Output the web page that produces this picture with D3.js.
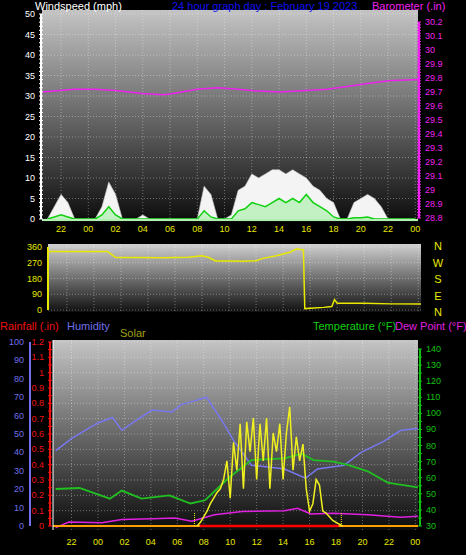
<!DOCTYPE html>
<html><head><meta charset="utf-8">
<script src="https://cdn.jsdelivr.net/npm/d3@7"></script>
<style>
body{margin:0;background:#000}
svg{display:block;font-family:"Liberation Sans",Arial,sans-serif}
</style></head>
<body><svg id="chart" width="466" height="555"></svg>
<script>
// hours relative to 00:00 of the graph day (-2 = 22:00 the day before)
const timeLabels = ['22','00','02','04','06','08','10','12','14','16','18','20','22','00']
const timeTicks = d3.range(-2, 25, 2)

// wind (mph), every half hour from -3
const gust = [0,3,6,4,0,0,0,0,3,9,6,0,0,0,1,0,0,0,0,0,0,0,0,8,6,0,0,1,7,8,11,10,11,12,12,11,12,11,10,8,7,5,4,0,0,4,5,6,5,3,0,0,0,0,0]
const avgWind = [0,0.5,1,0.5,0,0,0,0,1,3,1,0,0,0,0,0,0,0,0,0,0,0,0,2,0.5,0,0,0,2,2.5,4,3.5,3,4,5,4,5,4,6,4,3,2,0.5,0,0,0.3,0.3,0.5,0,0,0,0,0,0,0]

// barometer (inHg)
const baroTimes = [-3.4,-1,0.5,2,4,5.5,6,8,9.5,11,12,14,16,17.5,19,20.5,22,24.2]
const baro = [29.70,29.72,29.72,29.71,29.69,29.68,29.685,29.72,29.73,29.72,29.71,29.70,29.71,29.72,29.74,29.76,29.78,29.79]

// wind direction (deg)
const dirTimes = [-3.4,-1,1,1.6,3,5,7,8,8.5,9,10,11,12,12.5,13.5,14.5,15,15.4,15.5,15.6,17,17.6,17.8,18,20,22,24.2]
const dir = [335,335,335,300,300,298,302,310,300,280,280,278,282,295,310,330,350,345,345,8,15,20,60,38,38,35,35]

// humidity (%)
const humTimes = [-3.2,-1.9,0,1.1,1.8,2.8,4.1,5.6,6.3,7.3,8.2,9.4,10.3,11.6,12.9,14.1,15.7,16.6,18.6,19.9,21.6,22.9,24.2]
const hum = [41,48,56,59,52,57,63,62,66,68,70,57,46,33,32,31,26,31,33,40,46,52,53]

// temperature (°F)
const tempTimes = [-3.2,-1.4,0.9,1.8,3.3,5.4,7,8.1,9.9,11.6,14.1,15.4,16.3,17.8,18.9,20.4,21.9,24.2]
const temp = [53,53.6,47,52,47,49,44,46,60,71,72,75,71,70,68,64,57,54]

// dew point (°F)
const dewTimes = [-3.2,-2.2,0.3,1.8,4.1,5.8,7.1,8.8,10.9,14.1,15.1,16.1,17.8,20.4,22.9,24.2]
const dew = [29,32.5,32,34,34.5,35,33,37,39,39.5,41,37.5,38,37,35.5,36]

// solar (% of panel), every quarter hour from 7.5
const solar = [0,2,5,8,12,15,18,20,25,35,15,45,30,55,20,56,40,58,25,55,35,58,20,50,40,55,25,50,64,30,48,35,44,20,8,12,25,22,8,7,5,3,2,1,0]
const sunrise = 7.3, sunset = 18.4

const svg = d3.select('#chart')
const defs = svg.append('defs')
function grad(id, top, bottom) {
	const g = defs.append('linearGradient').attr('id', id).attr('x1', 0).attr('x2', 0).attr('y1', 0).attr('y2', 1)
	g.append('stop').attr('offset', 0).attr('stop-color', top)
	g.append('stop').attr('offset', 1).attr('stop-color', bottom)
}
grad('bg1', '#c4c4c4', '#0c0c0c')
grad('bg2', '#d0d0d0', '#101010')

function panel(x0, x1, y0, y1, bg, yScale, yTicks) {
	svg.append('rect').attr('x', x0).attr('y', y0).attr('width', x1 - x0).attr('height', y1 - y0).attr('fill', `url(#${bg})`)
	const x = d3.scaleLinear().domain([-3.4, 24.2]).range([x0, x1])
	const g = svg.append('g').attr('stroke', '#ffffff').attr('stroke-opacity', 0.35).attr('stroke-dasharray', '1,2')
	g.selectAll('.v').data(timeTicks).join('line').attr('x1', x).attr('x2', x).attr('y1', y0).attr('y2', y1)
	g.selectAll('.h').data(yTicks).join('line').attr('x1', x0).attr('x2', x1).attr('y1', yScale).attr('y2', yScale)
	return x
}
function timeAxis(x, y) {
	svg.append('g').selectAll('text').data(timeTicks).join('text')
		.attr('x', x).attr('y', y).attr('text-anchor', 'middle').attr('fill', '#e8e800').attr('font-size', 9)
		.text((d, i) => timeLabels[i])
}
function vAxis(xPos, scale, ticks, color, anchor, fmt, minor) {
	const g = svg.append('g')
	g.append('line').attr('x1', xPos).attr('x2', xPos).attr('y1', scale.range()[1]).attr('y2', scale.range()[0]).attr('stroke', color).attr('stroke-width', 2)
	if (minor) g.selectAll('.m').data(minor).join('line').attr('x1', xPos - 2).attr('x2', xPos + 2).attr('y1', scale).attr('y2', scale).attr('stroke', color)
	const dx = anchor === 'end' ? -6 : 6
	g.selectAll('text').data(ticks).join('text')
		.attr('x', xPos + dx).attr('y', d => scale(d) + 3).attr('text-anchor', anchor)
		.attr('fill', color).attr('font-size', 9).text(fmt)
}
function text(x, y, s, color, size) {
	svg.append('text').attr('x', x).attr('y', y).attr('fill', color).attr('font-size', size || 11).text(s)
}

// ---------- top panel: windspeed + barometer ----------
const yW = d3.scaleLinear().domain([0, 50]).range([219, 14])
const yB = d3.scaleLinear().domain([28.8, 30.2]).range([218, 22])
const x1 = panel(42, 418, 10, 222, 'bg1', yW, d3.range(0, 51, 5))
const half = (d, i) => x1(-3 + i * 0.5)
svg.append('path').datum(gust).attr('fill', '#f4f4f4').attr('stroke', '#cccccc').attr('stroke-width', 0.6)
	.attr('d', d3.area().x(half).y0(yW(0)).y1(d => yW(d)))
svg.append('path').datum(avgWind).attr('fill', '#b8f0b8').attr('fill-opacity', 0.8)
	.attr('d', d3.area().x(half).y0(yW(0)).y1(d => yW(d)))
svg.append('path').datum(avgWind).attr('fill', 'none').attr('stroke', '#10d010').attr('stroke-width', 1.5)
	.attr('d', d3.line().x(half).y(d => yW(d)))
svg.append('line').attr('x1', 42).attr('x2', 418).attr('y1', yW(0) + 1).attr('y2', yW(0) + 1).attr('stroke', '#b0f0b0').attr('stroke-width', 2)
svg.append('path').datum(baro).attr('fill', 'none').attr('stroke', '#ee22ee').attr('stroke-width', 1.5)
	.attr('d', d3.line().x((d, i) => x1(baroTimes[i])).y(d => yB(d)))
vAxis(41, yW, d3.range(0, 51, 5), '#ffffff', 'end', d => d, d3.range(0, 51, 1))
vAxis(419, yB, d3.range(28.8, 30.21, 0.1), '#ee22ee', 'start', d => d3.format('.1f')(d).replace(/\.0$/, ''), d3.range(28.8, 30.21, 0.02))
timeAxis(x1, 232)
text(35, 10, 'Windspeed (mph)', '#ffffff')
text(172, 10, '24 hour graph day : February 19 2023', '#1010ee')
text(372, 10, 'Barometer (.in)', '#ee22ee')

// ---------- middle panel: wind direction ----------
const yD = d3.scaleLinear().domain([0, 360]).range([310, 247])
const x2 = panel(48, 421, 244, 312, 'bg2', yD, [0, 90, 180, 270, 360])
svg.append('path').datum(dir).attr('fill', 'none').attr('stroke', '#e8e800').attr('stroke-width', 1.5)
	.attr('d', d3.line().x((d, i) => x2(dirTimes[i])).y(d => yD(d)))
vAxis(48, yD, [0, 90, 180, 270, 360], '#e8e800', 'end', d => d)
svg.append('g').selectAll('text').data(['N', 'W', 'S', 'E', 'N']).join('text')
	.attr('x', 438).attr('y', (d, i) => 250 + i * 16.5).attr('text-anchor', 'middle')
	.attr('fill', '#e8e800').attr('font-size', 11).text(d => d)

// ---------- bottom panel ----------
const yH = d3.scaleLinear().domain([0, 100]).range([526, 342])
const yR = d3.scaleLinear().domain([0, 1.2]).range([526, 342])
const yT = d3.scaleLinear().domain([30, 140]).range([526, 349])
const yS = d3.scaleLinear().domain([0, 100]).range([526, 340])
const x3 = panel(53, 418, 340, 530, 'bg1', yR, d3.range(0, 1.21, 0.1))
const lineOf = (times, scale) => d3.line().x((d, i) => x3(times[i])).y(d => scale(d))
svg.append('path').datum(hum).attr('fill', 'none').attr('stroke', '#7878f0').attr('stroke-width', 1.5).attr('d', lineOf(humTimes, yH))
svg.append('path').datum(temp).attr('fill', 'none').attr('stroke', '#20c020').attr('stroke-width', 1.8).attr('d', lineOf(tempTimes, yT))
svg.append('path').datum(dew).attr('fill', 'none').attr('stroke', '#e020e0').attr('stroke-width', 1.5).attr('d', lineOf(dewTimes, yT))
svg.append('line').attr('x1', 53).attr('x2', 418).attr('y1', yS(0)).attr('y2', yS(0)).attr('stroke', '#ffa000').attr('stroke-width', 2)
svg.append('line').attr('x1', x3(7.7)).attr('x2', x3(18.2)).attr('y1', yR(0)).attr('y2', yR(0)).attr('stroke', '#ff0000').attr('stroke-width', 2.5)
svg.append('path').datum(solar).attr('fill', 'none').attr('stroke', '#f0f020').attr('stroke-width', 1.5)
	.attr('d', d3.line().x((d, i) => x3(7.5 + i * 0.25)).y(d => yS(d)))
svg.selectAll('.sun').data([sunrise, sunset]).join('line')
	.attr('x1', x3).attr('x2', x3).attr('y1', yS(0)).attr('y2', yS(0) - 14)
	.attr('stroke', '#f0f020').attr('stroke-dasharray', '1,1')
svg.append('line').attr('x1', 53).attr('x2', 53).attr('y1', 340).attr('y2', 530).attr('stroke', '#ffffff')
vAxis(30, yH, d3.range(0, 101, 10), '#7070e8', 'end', d => d)
vAxis(50, yR, d3.range(0, 1.21, 0.1), '#ee1010', 'end', d => d3.format('.1f')(d).replace(/\.0$/, ''), d3.range(0, 1.21, 0.05))
vAxis(420, yT, d3.range(30, 141, 10), '#10c010', 'start', d => d, d3.range(30, 141, 5))
timeAxis(x3, 545)
text(0, 330, 'Rainfall (.in)', '#ee1010')
text(67, 330, 'Humidity', '#7070e8')
text(120, 337, 'Solar', '#a0a010')
text(313, 330, 'Temperature (°F)', '#10d010')
text(395, 330, 'Dew Point (°F)', '#e020e0')
</script></body></html>
